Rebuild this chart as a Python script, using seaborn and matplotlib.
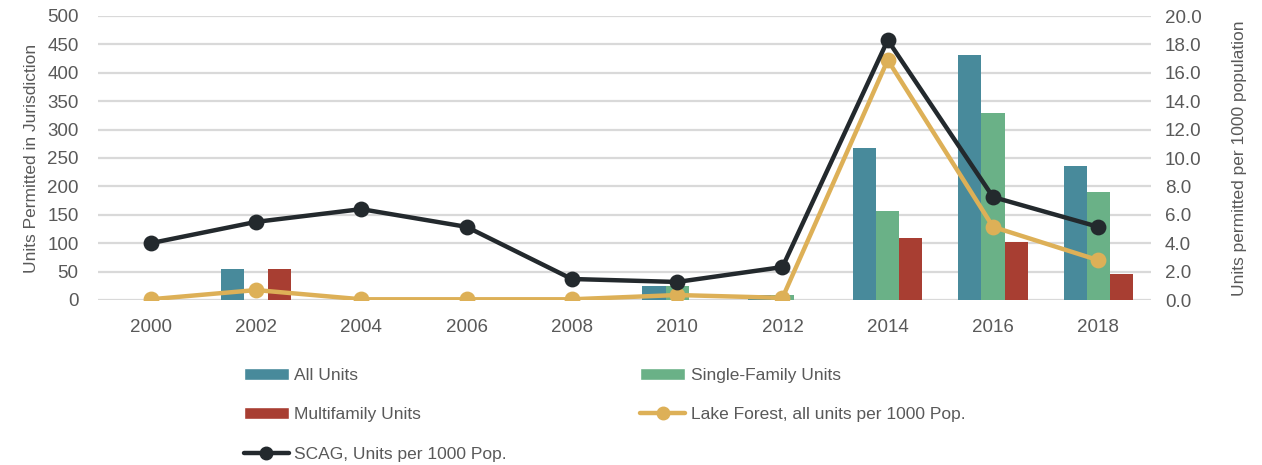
import matplotlib
matplotlib.use("Agg")
import matplotlib.pyplot as plt
import seaborn as sns
import pandas as pd
from matplotlib.patches import Patch
from matplotlib.lines import Line2D
from matplotlib.ticker import FormatStrFormatter

years = ["2000", "2002", "2004", "2006", "2008", "2010", "2012", "2014", "2016", "2018"]
all_units = [0, 55, 0, 0, 0, 25, 8, 268, 432, 236]
single_family = [0, 0, 0, 0, 0, 25, 8, 157, 330, 190]
multifamily = [0, 55, 0, 0, 0, 0, 0, 109, 102, 45]
lake_forest = [0.05, 0.7, 0.05, 0.05, 0.05, 0.35, 0.15, 16.9, 5.15, 2.8]
scag = [4.0, 5.5, 6.4, 5.15, 1.48, 1.27, 2.32, 18.3, 7.25, 5.15]

series_names = ["All Units", "Single-Family Units", "Multifamily Units"]
bar_colors = ["#488A9B", "#6AB187", "#A83E32"]
lf_color = "#DDB057"
scag_color = "#23292D"
text_color = "#595959"
grid_color = "#D9D9D9"

sns.set_theme(style="white")
plt.rcParams["font.family"] = ["Liberation Sans", "DejaVu Sans"]

df = pd.DataFrame({
    "year": years * 3,
    "value": all_units + single_family + multifamily,
    "series": sum([[n] * len(years) for n in series_names], []),
})
lines_df = pd.DataFrame({"year": years, "lf": lake_forest, "scag": scag})

fig = plt.figure(figsize=(12.62, 4.65), dpi=100)
ax = fig.add_axes([98 / 1262, 1 - 300 / 465, (1151 - 98) / 1262, (300 - 16) / 465])

sns.barplot(data=df, x="year", y="value", hue="series", order=years,
            hue_order=series_names, palette=bar_colors, width=0.66,
            ax=ax, legend=False, saturation=1, linewidth=0)

ax.set_ylim(0, 500)
ax.set_yticks(range(0, 501, 50))
ax.set_xlim(-0.5, len(years) - 0.5)
ax.grid(axis="y", color=grid_color, linewidth=1.6)
ax.set_axisbelow(True)
for s in ax.spines.values():
    s.set_visible(False)
ax.tick_params(axis="both", length=0, labelsize=13.5, colors=text_color)
ax.tick_params(axis="y", pad=14)
ax.tick_params(axis="x", pad=14)
ax.set_xlabel("")
ax.set_ylabel("Units Permitted in Jurisdiction", fontsize=12.5, color=text_color, labelpad=6)

ax2 = ax.twinx()
sns.pointplot(data=lines_df, x="year", y="lf", order=years, color=lf_color,
              ax=ax2, markers="o", markersize=9, linewidth=3.2)
sns.pointplot(data=lines_df, x="year", y="scag", order=years, color=scag_color,
              ax=ax2, markers="o", markersize=9, linewidth=3.2)
ax2.set_ylim(0, 20)
ax2.set_yticks(range(0, 21, 2))
ax2.yaxis.set_major_formatter(FormatStrFormatter("%.1f"))
ax2.set_xlim(-0.5, len(years) - 0.5)
for s in ax2.spines.values():
    s.set_visible(False)
ax2.tick_params(axis="both", length=0, labelsize=13.5, colors=text_color)
ax2.tick_params(axis="y", pad=10)
ax2.set_xlabel("")
ax2.set_ylabel("Units permitted per 1000 population", fontsize=12.5, color=text_color, labelpad=22)

handles = [
    Patch(facecolor=bar_colors[0], label="All Units"),
    Patch(facecolor=bar_colors[2], label="Multifamily Units"),
    Line2D([0], [0], color=scag_color, lw=3.2, marker="o", markersize=9, label="SCAG, Units per 1000 Pop."),
    Patch(facecolor=bar_colors[1], label="Single-Family Units"),
    Line2D([0], [0], color=lf_color, lw=3.2, marker="o", markersize=9, label="Lake Forest, all units per 1000 Pop."),
]
leg = fig.legend(handles=handles, ncol=2, loc="upper left",
                 bbox_to_anchor=(228 / 1262, 1 - 352 / 465), frameon=False,
                 fontsize=12.5, handlelength=2.6, handleheight=0.7,
                 handletextpad=0.3, columnspacing=7.7, labelspacing=1.4)
for t in leg.get_texts():
    t.set_color(text_color)

fig.savefig("out.png", dpi=100)
